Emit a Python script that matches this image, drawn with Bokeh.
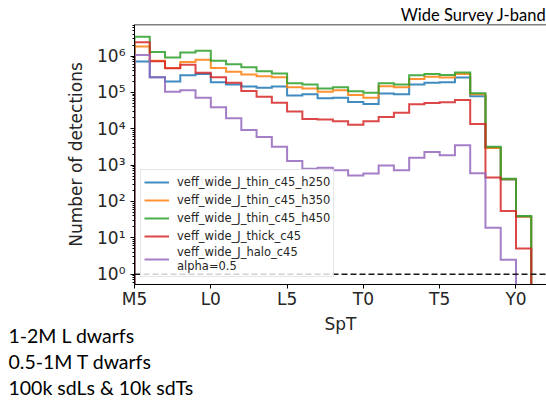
from bokeh.plotting import figure
from bokeh.models import (Range1d, FixedTicker, CustomJSTickFormatter, Span, Legend,
                          LegendItem, Title)
from bokeh.embed import file_html
from bokeh.resources import INLINE

# ---- data ----
spt_ticks = [15, 20, 25, 30, 35, 40]
spt_labels = ["M5", "L0", "L5", "T0", "T5", "Y0"]
first_bin = 15  # M5; one bin per subtype

thin_c45_h250 = [7.1e5, 2.6e5, 2.0e5, 2.95e5, 3.2e5, 1.9e5, 1.66e5, 1.45e5, 1.35e5, 1.45e5,
                 8.3e4, 8.9e4, 6.9e4, 7.2e4, 5.5e4, 4.8e4, 9.3e4, 8.9e4, 1.66e5, 1.86e5,
                 1.9e5, 2.57e5, 7.9e4, 3.0e3, 400, 38]
thin_c45_h350 = [1.85e6, 7.4e5, 4.7e5, 6.9e5, 7.9e5, 4.7e5, 3.7e5, 3.1e5, 2.8e5, 2.6e5,
                 1.38e5, 1.29e5, 1.05e5, 1.15e5, 8.5e4, 7.1e4, 1.48e5, 1.38e5, 2.34e5, 2.7e5,
                 2.57e5, 3.2e5, 8.9e4, 2.95e3, 410, 38]
thin_c45_h450 = [3.4e6, 1.3e6, 9.1e5, 1.25e6, 1.4e6, 7.4e5, 6.0e5, 4.9e5, 3.8e5, 3.3e5,
                 1.8e5, 1.66e5, 1.29e5, 1.38e5, 1.07e5, 9.8e4, 1.8e5, 1.66e5, 2.95e5, 3.2e5,
                 3.0e5, 3.55e5, 9.5e4, 3.2e3, 420, 40]
thick_c45 = [2.4e6, 7.2e5, 4.6e5, 5.8e5, 3.5e5, 2.6e5, 1.86e5, 1.1e5, 7.6e4, 5.2e4,
             3.0e4, 1.86e4, 1.8e4, 1.6e4, 1.3e4, 1.6e4, 2.1e4, 2.75e4, 4.7e4, 5.1e4,
             5.4e4, 6.2e4, 1.35e4, 460, 55, 5.1]
halo_c45 = [1.07e6, 2.6e5, 1.05e5, 1.15e5, 7.2e4, 3.9e4, 1.95e4, 9.3e3, 5.9e3, 3.2e3,
            1.3e3, 790, 850, 720, 520, 590, 980, 720, 1.6e3, 2.3e3,
            1.86e3, 3.55e3, 600, 19, 2.5, 0]

series_names = ["veff_wide_J_thin_c45_h250", "veff_wide_J_thin_c45_h350",
                "veff_wide_J_thin_c45_h450", "veff_wide_J_thick_c45",
                "veff_wide_J_halo_c45\nalpha=0.5"]
series_values = [thin_c45_h250, thin_c45_h350, thin_c45_h450, thick_c45, halo_c45]
series_colors = ["#1f77b4", "#ff7f0e", "#2ca02c", "#d62728", "#9467bd"]

ref_level = 1
notes = ["1-2M L dwarfs", "0.5-1M T dwarfs", "100k sdLs & 10k sdTs"]
title_text = "Wide Survey J-band"

# ---- figure ----
W, H = 546, 400
Y_TOP = 7.4e6
p = figure(width=W, height=H, y_axis_type="log", output_backend="svg",
           toolbar_location=None, x_range=Range1d(15, 42), y_range=Range1d(0.52, Y_TOP),
           min_border_left=134, min_border_right=0, min_border_top=24, min_border_bottom=116)
p.xgrid.visible = False
p.ygrid.visible = False
p.outline_line_color = None
p.background_fill_color = "white"
p.border_fill_color = "white"

p.title.text = title_text
p.title.align = "right"
p.title.text_font = "Lato"
p.title.text_font_size = "16.5px"
p.title.text_font_style = "normal"
p.title.text_color = "black"
p.title.text_line_height = 1.0
p.title.standoff = 0

floor = 1e-2


def step_path(vals, start):
    xs, ys = [start], [floor]
    for i, v in enumerate(vals):
        v = v if v > 0 else floor
        xs += [start + i, start + i + 1]
        ys += [v, v]
    xs.append(start + len(vals))
    ys.append(floor)
    return xs, ys


span = Span(location=ref_level, dimension="width", line_color="#1a1a1a",
            line_dash="6 3", line_width=1.5)
p.add_layout(span)
top_border = Span(location=Y_TOP, dimension="width", line_color="black", line_width=1.5)
p.add_layout(top_border)

items = []
for name, vals, col in zip(series_names, series_values, series_colors):
    xs, ys = step_path(vals, first_bin)
    r = p.line(xs, ys, line_color=col, line_width=2, line_alpha=0.85, line_join="miter")
    items.append(LegendItem(label=name, renderers=[r]))

leg = Legend(items=items, location=(6, 7), label_text_font_size="11.5px",
             label_text_font="DejaVu Sans", label_text_color="#262626",
             glyph_width=25, glyph_height=18, label_height=18, label_standoff=8,
             spacing=0, padding=3, margin=0, border_line_color="#cccccc",
             border_line_width=1, background_fill_alpha=0.8)
p.add_layout(leg)

# axes
for ax in (p.xaxis[0], p.yaxis[0]):
    ax.axis_line_color = "black"
    ax.major_tick_line_color = "black"
    ax.minor_tick_line_color = "black"
    ax.major_tick_in = 0
    ax.major_tick_out = 4
    ax.minor_tick_in = 0
    ax.minor_tick_out = 2
    ax.major_label_text_font = "DejaVu Sans"
    ax.major_label_text_font_size = "17px"
    ax.major_label_text_color = "#262626"
    ax.axis_label_text_font = "DejaVu Sans"
    ax.axis_label_text_font_size = "17px"
    ax.axis_label_text_font_style = "normal"
    ax.axis_label_text_color = "#262626"

p.xaxis.ticker = FixedTicker(ticks=spt_ticks)
p.xaxis.major_label_overrides = {t: l for t, l in zip(spt_ticks, spt_labels)}
p.xaxis.axis_label = "SpT"
p.xaxis.major_label_standoff = 0
p.xaxis.axis_label_standoff = 2

p.yaxis.axis_label = "Number of detections"
p.yaxis.major_label_standoff = 5
p.yaxis.axis_label_standoff = 8
p.yaxis.formatter = CustomJSTickFormatter(code="""
const sup = {'0':'\u2070','1':'\u00b9','2':'\u00b2','3':'\u00b3','4':'\u2074','5':'\u2075',
             '6':'\u2076','7':'\u2077','8':'\u2078','9':'\u2079','-':'\u207b'};
const e = Math.round(Math.log10(tick));
return '10' + String(e).split('').map(c => sup[c]).join('');
""")

# notes under the chart (one multi-line title block)
p.add_layout(Title(text="\n".join(notes), align="left", offset=-126, standoff=-28,
                   text_font="Lato", text_font_size="19.5px", text_font_style="normal",
                   text_line_height=1.14, text_color="black"), "below")

open("out.html", "w").write(file_html(p, INLINE))
